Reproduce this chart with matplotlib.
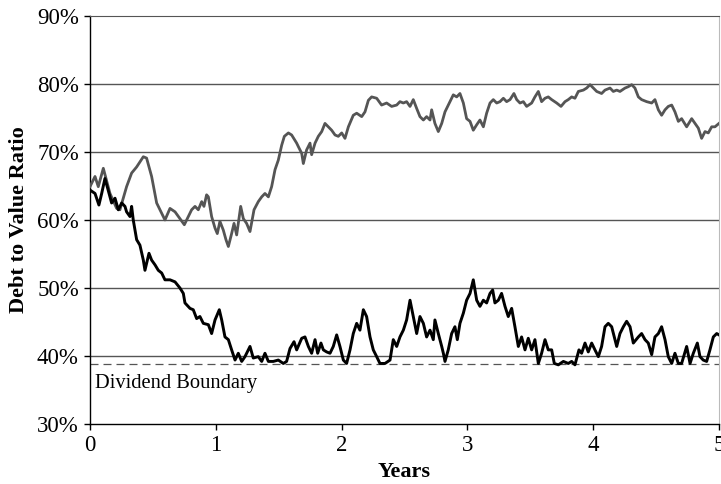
import matplotlib.pyplot as plt
from matplotlib.ticker import FuncFormatter

plt.rcParams['font.family'] = ['Liberation Serif', 'DejaVu Serif']

# upper path (gray), years / debt-to-value in %
gray_years = [0.000, 0.040, 0.066, 0.106, 0.159, 0.212, 0.238, 0.291, 0.331, 0.371,
              0.424, 0.450, 0.490, 0.530, 0.570, 0.596, 0.636, 0.676, 0.715, 0.750,
              0.782, 0.808, 0.835, 0.861, 0.888, 0.906, 0.927, 0.941, 0.967, 0.994,
              1.012, 1.033, 1.060, 1.081, 1.100, 1.126, 1.145, 1.166, 1.198, 1.219,
              1.245, 1.272, 1.304, 1.338, 1.365, 1.391, 1.418, 1.444, 1.471, 1.497,
              1.524, 1.545, 1.577, 1.603, 1.643, 1.656, 1.683, 1.696, 1.722, 1.749,
              1.762, 1.789, 1.815, 1.842, 1.868, 1.895, 1.921, 1.948, 1.974, 2.001,
              2.027, 2.054, 2.093, 2.120, 2.160, 2.186, 2.213, 2.239, 2.279, 2.318,
              2.358, 2.398, 2.438, 2.464, 2.491, 2.517, 2.544, 2.570, 2.597, 2.623,
              2.650, 2.676, 2.703, 2.716, 2.742, 2.769, 2.796, 2.822, 2.862, 2.888,
              2.915, 2.941, 2.968, 2.994, 3.021, 3.047, 3.074, 3.100, 3.127, 3.153,
              3.180, 3.206, 3.233, 3.259, 3.286, 3.312, 3.339, 3.370, 3.392, 3.418,
              3.445, 3.471, 3.511, 3.537, 3.564, 3.590, 3.617, 3.643, 3.670, 3.710,
              3.744, 3.776, 3.802, 3.829, 3.855, 3.882, 3.922, 3.948, 3.975, 4.001,
              4.028, 4.067, 4.094, 4.134, 4.160, 4.187, 4.213, 4.253, 4.279, 4.306,
              4.332, 4.359, 4.385, 4.425, 4.465, 4.491, 4.518, 4.544, 4.571, 4.597,
              4.624, 4.650, 4.677, 4.703, 4.743, 4.783, 4.809, 4.836, 4.862, 4.889,
              4.915, 4.942, 4.968, 5.000]
gray_ratio = [64.9, 66.4, 64.9, 67.6, 63.9, 61.7, 61.5, 64.9, 66.9, 67.8,
              69.3, 69.1, 66.4, 62.5, 61.0, 60.0, 61.7, 61.2, 60.2, 59.3,
              60.5, 61.5, 62.0, 61.5, 62.7, 62.0, 63.7, 63.4, 60.5, 58.8,
              58.0, 59.8, 58.5, 57.1, 56.1, 58.0, 59.5, 57.8, 62.0, 60.2,
              59.5, 58.3, 61.5, 62.7, 63.4, 63.9, 63.4, 64.9, 67.4, 68.8,
              71.0, 72.3, 72.8, 72.5, 71.3, 70.8, 69.8, 68.3, 70.3, 71.3,
              69.6, 71.3, 72.3, 73.0, 74.2, 73.7, 73.2, 72.5, 72.3, 72.8,
              72.0, 73.7, 75.4, 75.7, 75.2, 75.9, 77.6, 78.1, 77.9, 76.9,
              77.2, 76.7, 76.9, 77.4, 77.2, 77.4, 76.7, 77.7, 76.4, 75.2,
              74.7, 75.2, 74.7, 76.2, 74.2, 73.0, 74.2, 75.9, 77.4, 78.4,
              78.1, 78.6, 77.2, 74.9, 74.5, 73.2, 74.0, 74.7, 73.7, 75.7,
              77.2, 77.7, 77.2, 77.4, 77.9, 77.4, 77.7, 78.6, 77.7, 77.2,
              77.4, 76.7, 77.2, 78.1, 78.9, 77.4, 77.9, 78.1, 77.7, 77.2,
              76.7, 77.4, 77.7, 78.1, 77.9, 78.9, 79.1, 79.4, 79.9, 79.4,
              78.9, 78.6, 79.1, 79.4, 78.9, 79.1, 78.9, 79.4, 79.6, 79.9,
              79.4, 78.1, 77.7, 77.4, 77.2, 77.7, 76.2, 75.4, 76.2, 76.7,
              76.9, 75.9, 74.5, 74.9, 73.7, 74.9, 74.2, 73.5, 72.0, 73.0,
              72.8, 73.7, 73.7, 74.2]

# lower path (black)
black_years = [0.000, 0.040, 0.071, 0.093, 0.119, 0.140, 0.172, 0.199, 0.225, 0.252,
               0.278, 0.291, 0.318, 0.331, 0.344, 0.371, 0.397, 0.424, 0.437, 0.469,
               0.490, 0.517, 0.543, 0.570, 0.596, 0.636, 0.676, 0.715, 0.742, 0.755,
               0.795, 0.821, 0.848, 0.874, 0.901, 0.941, 0.967, 0.994, 1.028, 1.047,
               1.073, 1.100, 1.126, 1.153, 1.179, 1.206, 1.232, 1.272, 1.298, 1.338,
               1.365, 1.391, 1.418, 1.457, 1.497, 1.537, 1.563, 1.590, 1.622, 1.643,
               1.683, 1.709, 1.736, 1.762, 1.789, 1.810, 1.836, 1.855, 1.881, 1.908,
               1.934, 1.961, 1.987, 2.014, 2.040, 2.067, 2.093, 2.120, 2.146, 2.173,
               2.199, 2.226, 2.252, 2.279, 2.305, 2.345, 2.385, 2.411, 2.438, 2.464,
               2.491, 2.517, 2.544, 2.570, 2.597, 2.623, 2.650, 2.676, 2.703, 2.729,
               2.742, 2.769, 2.796, 2.809, 2.822, 2.848, 2.875, 2.901, 2.920, 2.941,
               2.968, 2.994, 3.021, 3.047, 3.074, 3.100, 3.127, 3.153, 3.180, 3.201,
               3.219, 3.246, 3.272, 3.299, 3.325, 3.352, 3.378, 3.405, 3.431, 3.458,
               3.484, 3.511, 3.537, 3.564, 3.590, 3.617, 3.643, 3.670, 3.691, 3.723,
               3.763, 3.802, 3.829, 3.855, 3.887, 3.908, 3.935, 3.961, 3.988, 4.014,
               4.041, 4.067, 4.094, 4.120, 4.147, 4.173, 4.187, 4.213, 4.240, 4.266,
               4.293, 4.319, 4.359, 4.385, 4.412, 4.438, 4.465, 4.491, 4.518, 4.544,
               4.571, 4.597, 4.624, 4.650, 4.677, 4.703, 4.743, 4.770, 4.796, 4.828,
               4.849, 4.875, 4.902, 4.928, 4.955, 4.982, 5.000]
black_ratio = [64.4, 63.9, 62.2, 63.9, 66.1, 64.7, 62.5, 63.2, 61.5, 62.5,
               62.0, 61.2, 60.5, 62.0, 60.0, 57.1, 56.3, 54.1, 52.6, 55.1,
               54.1, 53.4, 52.6, 52.2, 51.2, 51.2, 50.9, 50.0, 49.2, 47.8,
               47.0, 46.8, 45.5, 45.8, 44.8, 44.6, 43.3, 45.3, 46.8, 45.3,
               42.8, 42.4, 40.9, 39.4, 40.4, 39.2, 39.9, 41.4, 39.7, 39.9,
               39.2, 40.4, 39.2, 39.2, 39.4, 38.9, 39.2, 41.1, 42.1, 40.9,
               42.6, 42.8, 41.4, 40.4, 42.4, 40.4, 41.9, 40.9, 40.6, 40.4,
               41.4, 43.1, 41.4, 39.4, 38.9, 40.9, 43.3, 44.8, 43.8, 46.8,
               45.8, 42.8, 40.9, 39.9, 38.9, 38.9, 39.4, 42.4, 41.4, 42.8,
               43.8, 45.3, 48.2, 45.8, 43.3, 45.8, 44.8, 42.8, 43.8, 42.4,
               45.3, 43.3, 41.4, 40.4, 39.2, 40.9, 43.3, 44.3, 42.4, 44.8,
               46.3, 48.2, 49.2, 51.2, 48.2, 47.3, 48.2, 47.8, 49.2, 49.7,
               47.8, 48.2, 49.2, 47.3, 45.8, 47.0, 44.3, 41.4, 42.8, 40.9,
               42.6, 40.9, 42.4, 38.9, 40.4, 42.4, 40.9, 40.9, 38.9, 38.7,
               39.2, 38.9, 39.2, 38.7, 40.9, 40.4, 41.9, 40.6, 41.9, 40.9,
               39.9, 41.4, 44.3, 44.8, 44.3, 42.4, 41.4, 43.3, 44.3, 45.1,
               44.3, 41.9, 42.8, 43.3, 42.4, 41.9, 40.2, 42.8, 43.3, 44.3,
               42.4, 39.9, 38.9, 40.4, 38.9, 38.9, 41.4, 38.9, 40.4, 41.9,
               39.9, 39.4, 39.2, 40.9, 42.8, 43.3, 43.1]

dividend_boundary = 38.8
y_ticks = [30, 40, 50, 60, 70, 80, 90]
x_ticks = [0, 1, 2, 3, 4, 5]

fig = plt.figure(figsize=(7.21, 4.84), dpi=100)
ax = fig.add_axes([0.1248, 0.124, 0.8724, 0.843])

for v in y_ticks[1:-1]:
    ax.axhline(v, color='#555555', linewidth=1.0, zorder=1)

ax.axhline(dividend_boundary, color='#555555', linewidth=0.9,
           linestyle=(0, (6.4, 4)), zorder=2)
ax.plot(gray_years, gray_ratio, color='#555555', linewidth=2.0, zorder=3)
ax.plot(black_years, black_ratio, color='black', linewidth=2.1, zorder=4)
ax.text(0.04, 36.0, 'Dividend Boundary', fontsize=14.8, va='center', ha='left')

ax.set_xlim(0, 5)
ax.set_ylim(30, 90)
ax.set_xticks(x_ticks)
ax.set_yticks(y_ticks)
ax.yaxis.set_major_formatter(FuncFormatter(lambda v, p: '%d%%' % v))
ax.tick_params(direction='out', length=4, width=1, labelsize=16.5, pad=4)

ax.spines['top'].set_color('#555555')
ax.spines['right'].set_color('#bbbbbb')
ax.spines['left'].set_linewidth(1.0)
ax.spines['bottom'].set_linewidth(1.0)

ax.set_xlabel('Years', fontsize=16, fontweight='bold', labelpad=4)
ax.set_ylabel('Debt to Value Ratio', fontsize=16, fontweight='bold', labelpad=6)

plt.savefig('out.png', dpi=100)
